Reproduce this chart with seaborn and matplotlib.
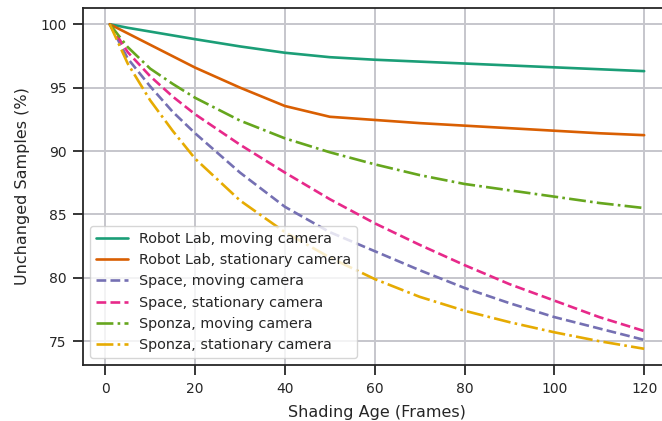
import matplotlib
matplotlib.use("Agg")
import matplotlib.pyplot as plt
import seaborn as sns

# Shading age in frames
frames = [1, 5, 10, 15, 20, 30, 40, 50, 60, 70, 80, 90, 100, 110, 120]

# Unchanged samples (%) per scene / camera mode
robot_moving = [100, 99.72, 99.42, 99.12, 98.82, 98.25, 97.75, 97.4, 97.2, 97.05, 96.9, 96.75, 96.6, 96.45, 96.3]
robot_stationary = [100, 99.28, 98.38, 97.48, 96.58, 95.0, 93.55, 92.7, 92.45, 92.2, 92.0, 91.8, 91.6, 91.4, 91.25]
space_moving = [100, 97.3, 95.1, 93.1, 91.4, 88.3, 85.6, 83.6, 82.1, 80.6, 79.2, 78.0, 76.9, 76.0, 75.1]
space_stationary = [100, 97.8, 95.9, 94.3, 92.9, 90.5, 88.3, 86.2, 84.3, 82.6, 81.0, 79.5, 78.2, 76.9, 75.8]
sponza_moving = [100, 98.2, 96.5, 95.3, 94.2, 92.4, 91.0, 89.9, 88.95, 88.1, 87.4, 86.9, 86.4, 85.9, 85.5]
sponza_stationary = [100, 96.9, 94.0, 91.6, 89.4, 86.1, 83.6, 81.6, 79.9, 78.5, 77.4, 76.5, 75.7, 75.0, 74.4]

labels = ["Robot Lab, moving camera", "Robot Lab, stationary camera",
          "Space, moving camera", "Space, stationary camera",
          "Sponza, moving camera", "Sponza, stationary camera"]

sns.set_style("ticks", {"axes.grid": True, "grid.color": "#c6c6cc",
                        "axes.edgecolor": "#262626"})
plt.rcParams["font.family"] = ["DejaVu Sans"]

colors = sns.color_palette("Dark2", 6)
styles = ["-", "-", "--", "--", "-.", "-."]
series = [robot_moving, robot_stationary, space_moving,
          space_stationary, sponza_moving, sponza_stationary]

fig = plt.figure(figsize=(6.62, 4.21), dpi=100)
ax = fig.add_axes([0.1254, 0.133, 0.888, 0.848])

for vals, lab, col, ls in zip(series, labels, colors, styles):
    sns.lineplot(x=frames, y=vals, color=col, linestyle=ls, lw=1.9,
                 label=lab, ax=ax)

ax.grid(True, lw=1.4)
for s in ax.spines.values():
    s.set_linewidth(1.3)
ax.tick_params(direction="out", length=7, width=1.3, pad=5, labelsize=10,
               colors="#262626")
ax.set_xticks([0, 20, 40, 60, 80, 100, 120])
ax.set_yticks([75, 80, 85, 90, 95, 100])
ax.set_xlabel("Shading Age (Frames)", fontsize=11.5, color="#262626",
              labelpad=7)
ax.set_ylabel("Unchanged Samples (%)", fontsize=11.5, color="#262626",
              labelpad=7)
ax.legend(loc="lower left", fontsize=10.4, frameon=True, handlelength=2.2,
          borderaxespad=0.5)

fig.savefig("out.png", dpi=100)
